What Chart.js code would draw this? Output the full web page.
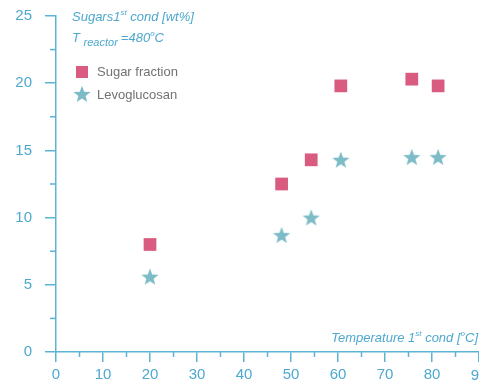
<!DOCTYPE html>
<html>
<head>
<meta charset="utf-8">
<script src="https://cdn.jsdelivr.net/npm/chart.js@4"></script>
<style>
  html, body { margin: 0; padding: 0; background: #fff; overflow: hidden; }
  #sugar-chart { display: block; }
</style>
</head>
<body>
<canvas id="sugar-chart" width="479" height="382"></canvas>
<script>
// values
var temperature = [20, 48, 54.3, 60.6, 75.7, 81.3];
var sugarFraction = [8.0, 12.5, 14.3, 19.8, 20.3, 19.8];
var levoglucosan = [5.6, 8.7, 10.0, 14.3, 14.5, 14.5];
var xTicks = [0, 10, 20, 30, 40, 50, 60, 70, 80, 90];
var yTicks = [0, 5, 10, 15, 20, 25];

var axisColor = '#5cb3d4';
var textColor = '#4ea8cf';
var pink = '#d95b7f';
var teal = '#7dbcc7';

function makeStar(size, color) {
    var c = document.createElement('canvas');
    c.width = size; c.height = size;
    var g = c.getContext('2d');
    var cx = size / 2, cy = size / 2 + 0.8, R = size / 2, r = R * 0.42;
    g.beginPath();
    for (var i = 0; i < 10; i++) {
        var rad = i % 2 === 0 ? R : r;
        var a = -Math.PI / 2 + i * Math.PI / 5;
        var px = cx + rad * Math.cos(a), py = cy + rad * Math.sin(a);
        if (i === 0) g.moveTo(px, py); else g.lineTo(px, py);
    }
    g.closePath();
    g.fillStyle = color;
    g.fill();
    return c;
}
var starImg = makeStar(18, teal);

function pts(ys) {
    return temperature.map(function(t, i) { return {x: t, y: ys[i]}; });
}

// minor ticks, overlay texts, legend, cut "90"
var decorations = {
    id: 'decorations',
    afterDraw: function(chart) {
        var ctx = chart.ctx;
        var xs = chart.scales.x, ys = chart.scales.y;
        var area = chart.chartArea;
        ctx.save();
        ctx.strokeStyle = axisColor;
        ctx.lineWidth = 1.5;
        for (var v = 2.5; v < 25; v += 5) {
            var py = ys.getPixelForValue(v);
            ctx.beginPath(); ctx.moveTo(area.left - 6, py); ctx.lineTo(area.left, py); ctx.stroke();
        }
        for (var u = 5; u < 90; u += 10) {
            var px = xs.getPixelForValue(u);
            ctx.beginPath(); ctx.moveTo(px, area.bottom); ctx.lineTo(px, area.bottom + 5); ctx.stroke();
        }

        // last x label, partly off canvas
        ctx.fillStyle = textColor;
        ctx.font = '15px "Liberation Sans", Arial, sans-serif';
        ctx.textAlign = 'center';
        ctx.textBaseline = 'middle';
        ctx.fillText('90', xs.getPixelForValue(90), 376);

        // y title
        ctx.textAlign = 'left';
        ctx.textBaseline = 'alphabetic';
        var x0 = 72;
        ctx.font = 'italic 13px "Liberation Sans", Arial, sans-serif';
        ctx.fillText('Sugars1', x0, 21);
        var w = ctx.measureText('Sugars1').width;
        ctx.font = 'italic 8px "Liberation Sans", Arial, sans-serif';
        ctx.fillText('st', x0 + w, 15);
        var w2 = ctx.measureText('st').width;
        ctx.font = 'italic 13px "Liberation Sans", Arial, sans-serif';
        ctx.fillText(' cond [wt%]', x0 + w + w2, 21);

        // reactor temperature
        ctx.fillText('T', x0, 42);
        w = ctx.measureText('T ').width;
        ctx.font = 'italic 11px "Liberation Sans", Arial, sans-serif';
        ctx.fillText('reactor', x0 + w, 46);
        w2 = ctx.measureText('reactor ').width;
        ctx.font = 'italic 13px "Liberation Sans", Arial, sans-serif';
        ctx.fillText('=480', x0 + w + w2, 42);
        var w3 = ctx.measureText('=480').width;
        ctx.font = 'italic 8px "Liberation Sans", Arial, sans-serif';
        ctx.fillText('o', x0 + w + w2 + w3, 36);
        var w4 = ctx.measureText('o').width;
        ctx.font = 'italic 13px "Liberation Sans", Arial, sans-serif';
        ctx.fillText('C', x0 + w + w2 + w3 + w4, 42);

        // x title, right aligned
        ctx.textAlign = 'right';
        var xr = 478;
        var parts = [
            {t: ']', f: 13, dy: 0},
            {t: 'C', f: 13, dy: 0},
            {t: 'o', f: 8, dy: -6},
            {t: ' cond [', f: 13, dy: 0},
            {t: 'st', f: 8, dy: -6},
            {t: 'Temperature 1', f: 13, dy: 0}
        ];
        parts.forEach(function(p) {
            ctx.font = 'italic ' + p.f + 'px "Liberation Sans", Arial, sans-serif';
            ctx.fillText(p.t, xr, 342 + p.dy);
            xr -= ctx.measureText(p.t).width;
        });

        // legend
        ctx.textAlign = 'left';
        ctx.textBaseline = 'middle';
        ctx.font = '13px "Liberation Sans", Arial, sans-serif';
        ctx.fillStyle = pink;
        ctx.fillRect(76, 66, 12, 12);
        ctx.drawImage(starImg, 73, 85);
        ctx.fillStyle = '#727272';
        ctx.fillText(chart.data.datasets[0].label, 97, 72);
        ctx.fillText(chart.data.datasets[1].label, 97, 95);
        ctx.restore();
    }
};

var ctx = document.getElementById('sugar-chart').getContext('2d');
var sugarChart = new Chart(ctx, {
    type: 'scatter',
    data: {
        datasets: [{
            label: 'Sugar fraction',
            data: pts(sugarFraction),
            pointStyle: 'rect',
            pointRadius: 9,
            backgroundColor: pink,
            borderColor: pink,
            borderWidth: 0
        }, {
            label: 'Levoglucosan',
            data: pts(levoglucosan),
            pointStyle: starImg,
            pointRadius: 9
        }]
    },
    options: {
        responsive: false,
        animation: false,
        layout: { autoPadding: false, padding: { top: 16, right: 0, left: 0, bottom: 0 } },
        plugins: {
            legend: { display: false },
            tooltip: { enabled: false }
        },
        scales: {
            x: {
                type: 'linear',
                min: 0,
                max: 90,
                afterBuildTicks: function(s) { s.ticks = xTicks.map(function(v) { return {value: v}; }); },
                afterFit: function(s) { s.height = 30; s.paddingLeft = 0; s.paddingRight = 0; },
                border: { color: axisColor, width: 1.5 },
                grid: { drawOnChartArea: false, drawTicks: true, tickLength: 10, color: axisColor, lineWidth: 1.5 },
                ticks: {
                    color: textColor,
                    padding: 4,
                    maxRotation: 0,
                    autoSkip: false,
                    font: { size: 15, family: '"Liberation Sans", Arial, sans-serif' },
                    callback: function(v) { return v === 90 ? '' : v; }
                }
            },
            y: {
                type: 'linear',
                min: 0,
                max: 25,
                afterBuildTicks: function(s) { s.ticks = yTicks.map(function(v) { return {value: v}; }); },
                afterFit: function(s) { s.width = 56; s.paddingTop = 0; s.paddingBottom = 0; },
                border: { color: axisColor, width: 1.5 },
                grid: { drawOnChartArea: false, drawTicks: true, tickLength: 11, color: axisColor, lineWidth: 1.5 },
                ticks: {
                    color: textColor,
                    padding: 13,
                    font: { size: 15, family: '"Liberation Sans", Arial, sans-serif' }
                }
            }
        }
    },
    plugins: [decorations]
});
</script>
</body>
</html>
